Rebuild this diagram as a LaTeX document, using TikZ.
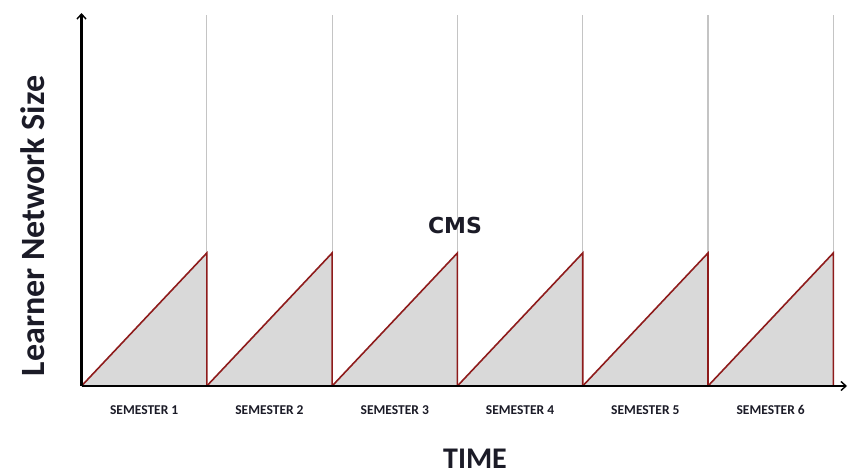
\documentclass[tikz,border=0pt]{standalone}
\usepackage{fontspec}
\setmainfont{Carlito}
\newfontfamily\cmsfont{DejaVu Sans}
\usetikzlibrary{arrows.meta}
\definecolor{sawred}{HTML}{8E1B1B}
\definecolor{sawfill}{HTML}{D9D9D9}
\definecolor{gridgray}{HTML}{C4C4C4}
\definecolor{txt}{HTML}{1B1B27}
\tikzset{
  axisline/.style={line width=2.3pt, black, -{Straight Barb[length=5pt,width=9pt,line width=1.4pt]}},
  sawline/.style={line width=1.6pt, sawred, line join=miter},
  tri/.style={fill=sawfill, draw=none},
  gridline/.style={line width=1.2pt, gridgray},
  semlabel/.style={font=\bfseries\fontsize{13.5}{15}\selectfont, text=txt, inner sep=0pt},
}
\begin{document}
\begin{tikzpicture}[x=1pt,y=-1pt]
\useasboundingbox (0,0) rectangle (848,474);
\fill[white] (0,0) rectangle (848,474);
\def\ytop{253}
\def\ybase{386}
\foreach \i/\xa/\xb in {1/81.5/206.8,2/206.8/332.1,3/332.1/457.4,4/457.4/582.7,5/582.7/708.0,6/708.0/833.3}{
  \coordinate (s\i) at (\xa,\ybase);
  \coordinate (t\i) at (\xb,\ytop);
  \coordinate (b\i) at (\xb,\ybase);
  \coordinate (g\i) at (\xb,15);
  \fill[tri] (s\i) -- (t\i) -- (b\i) -- cycle;
  \draw[gridline] (g\i) -- (t\i);
  \draw[sawline] (s\i) -- (t\i) -- (b\i);
  \node[semlabel, anchor=base] (sem\i) at ({(\xa+\xb)/2},414) {SEMESTER \i};
}
\coordinate (O) at (81.5,386);
\coordinate (Ytop) at (81.5,13);
\coordinate (Xend) at (847,386);
\draw[axisline] (O) -- (Ytop);
\draw[axisline] (O) -- (Xend);
\node[font=\cmsfont\bfseries\fontsize{22}{26}\selectfont, text=txt, inner sep=0pt, anchor=base] (cms) at (455,233) {CMS};
\node[font=\bfseries\fontsize{30}{34}\selectfont, text=txt, inner sep=0pt, anchor=base] (time) at (475,468) {TIME};
\node[font=\bfseries\fontsize{34}{38}\selectfont, text=txt, inner sep=0pt, rotate=90, anchor=base] (ylab) at (44,226) {Learner Network Size};
\end{tikzpicture}
\end{document}
